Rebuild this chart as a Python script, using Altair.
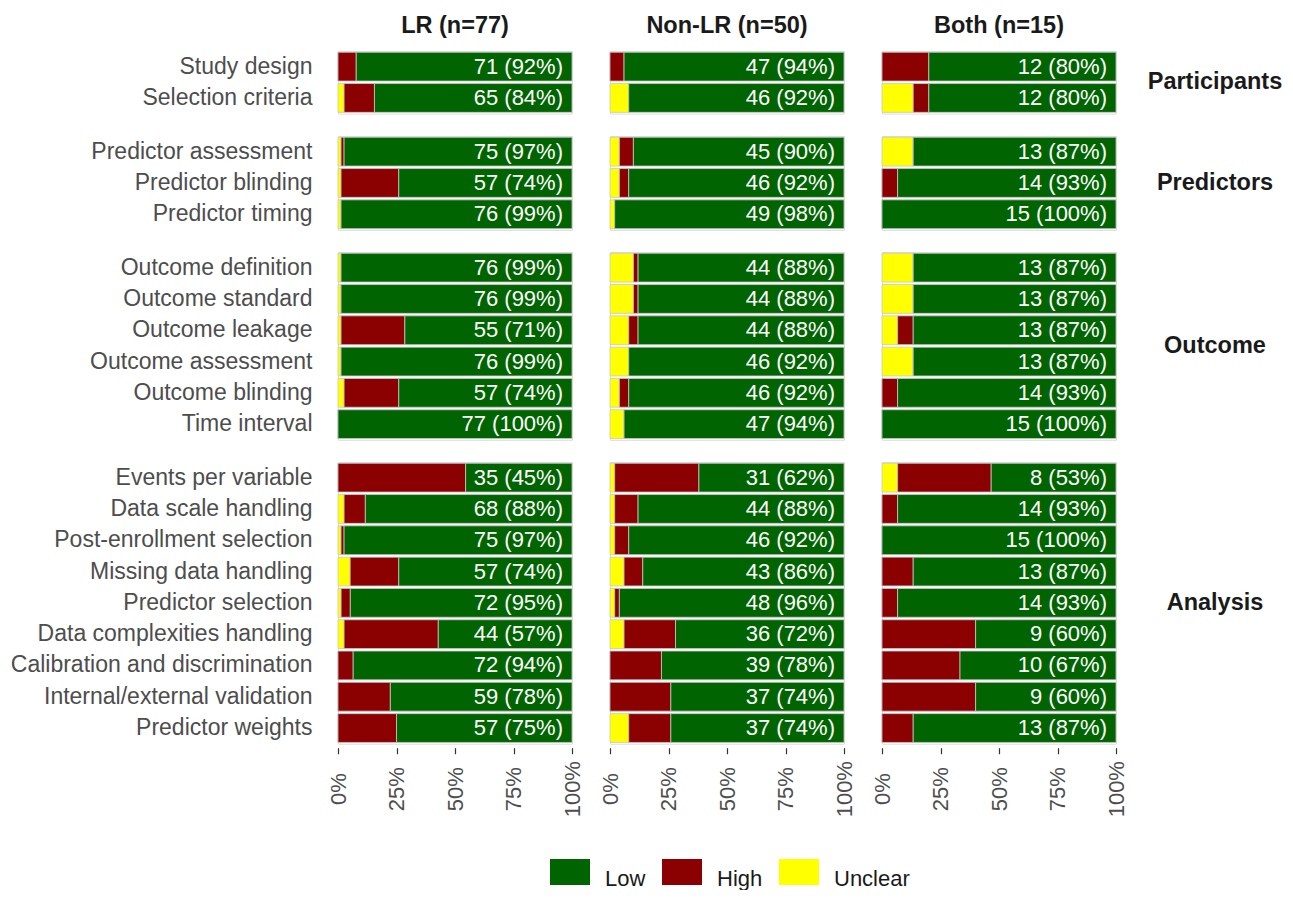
import altair as alt
import pandas as pd

groups = ["LR (n=77)", "Non-LR (n=50)", "Both (n=15)"]
domains = ["Participants", "Predictors", "Outcome", "Analysis"]
items_by_domain = {
    "Participants": ["Study design", "Selection criteria"],
    "Predictors": ["Predictor assessment", "Predictor blinding", "Predictor timing"],
    "Outcome": ["Outcome definition", "Outcome standard", "Outcome leakage",
                "Outcome assessment", "Outcome blinding", "Time interval"],
    "Analysis": ["Events per variable", "Data scale handling", "Post-enrollment selection",
                 "Missing data handling", "Predictor selection", "Data complexities handling",
                 "Calibration and discrimination", "Internal/external validation",
                 "Predictor weights"],
}

# counts per item (in item order above), per group
low = {
    "LR (n=77)": [71, 65, 75, 57, 76, 76, 76, 55, 76, 57, 77, 35, 68, 75, 57, 72, 44, 72, 59, 57],
    "Non-LR (n=50)": [47, 46, 45, 46, 49, 44, 44, 44, 46, 46, 47, 31, 44, 46, 43, 48, 36, 39, 37, 37],
    "Both (n=15)": [12, 12, 13, 14, 15, 13, 13, 13, 13, 14, 15, 8, 14, 15, 13, 14, 9, 10, 9, 13],
}
high = {
    "LR (n=77)": [6, 10, 1, 19, 0, 0, 0, 21, 0, 18, 0, 42, 7, 1, 16, 3, 31, 5, 17, 19],
    "Non-LR (n=50)": [3, 0, 3, 2, 0, 1, 1, 2, 0, 2, 0, 18, 5, 3, 4, 1, 11, 11, 13, 9],
    "Both (n=15)": [3, 1, 0, 1, 0, 0, 0, 1, 0, 1, 0, 6, 1, 0, 2, 1, 6, 5, 6, 2],
}
unclear = {
    "LR (n=77)": [0, 2, 1, 1, 1, 1, 1, 1, 1, 2, 0, 0, 2, 1, 4, 1, 2, 0, 0, 0],
    "Non-LR (n=50)": [0, 4, 2, 2, 1, 5, 5, 4, 4, 2, 3, 1, 1, 1, 3, 1, 3, 0, 0, 4],
    "Both (n=15)": [0, 2, 2, 0, 0, 2, 2, 1, 2, 0, 0, 1, 0, 0, 0, 0, 0, 0, 0, 0],
}
low_pct = {
    "LR (n=77)": [92, 84, 97, 74, 99, 99, 99, 71, 99, 74, 100, 45, 88, 97, 74, 95, 57, 94, 78, 75],
    "Non-LR (n=50)": [94, 92, 90, 92, 98, 88, 88, 88, 92, 92, 94, 62, 88, 92, 86, 96, 72, 78, 74, 74],
    "Both (n=15)": [80, 80, 87, 93, 100, 87, 87, 87, 87, 93, 100, 53, 93, 100, 87, 93, 60, 67, 60, 87],
}

judgments = ["Low", "High", "Unclear"]
colors = ["#006400", "#8B0000", "#FFFF00"]
stack_order = {"Unclear": 0, "High": 1, "Low": 2}

rows = []
for g in groups:
    idx = 0
    for d in domains:
        for it in items_by_domain[d]:
            vals = {"Low": low[g][idx], "High": high[g][idx], "Unclear": unclear[g][idx]}
            for j in ["Unclear", "High", "Low"]:
                rows.append({
                    "group": g, "domain": d, "item": it, "judgment": j,
                    "count": vals[j], "ord": stack_order[j],
                    "label": f"{low[g][idx]} ({low_pct[g][idx]}%)" if j == "Low" else "",
                })
            idx += 1
df = pd.DataFrame(rows)

FONT = "Liberation Sans"
STEP = 31.3
PW = 234

legend = alt.Legend(
    title=None, orient="none", direction="horizontal", legendX=212, legendY=808,
    symbolType="M-1,-1H1V0.3H-1Z", symbolSize=1600, symbolStrokeWidth=0, symbolOpacity=1,
    labelFontSize=22, labelColor="#1a1a1a", labelOffset=15, columnPadding=16,
    labelFont=FONT,
)


def panel(d, gi):
    g = groups[gi]
    sub = df[(df["domain"] == d) & (df["group"] == g)]
    its = items_by_domain[d]
    h = round(len(its) * STEP, 1)
    first_col = gi == 0
    last_row = d == domains[-1]
    first_row = d == domains[0]

    yaxis = alt.Axis(labelFontSize=23, labelColor="#4d4d4d", ticks=False, domain=False,
                     labelPadding=26, labelLimit=400, labelFont=FONT, grid=False) if first_col else None
    y = alt.Y("item:N", sort=its, title=None, axis=yaxis,
              scale=alt.Scale(paddingInner=0.08, paddingOuter=0.04))
    if last_row:
        xaxis = alt.Axis(values=[0, 0.25, 0.5, 0.75, 1], format=".0%", labelAngle=270,
                         labelAlign="center", labelBaseline="middle", labelFontSize=22,
                         labelColor="#4d4d4d", tickSize=6, tickColor="#333333", tickWidth=1.2,
                         domain=False, grid=False, offset=4, labelPadding=35,
                         labelFlush=False, labelOverlap=False, labelFont=FONT)
    else:
        xaxis = None

    base = alt.Chart(sub)
    bars = base.mark_bar(stroke="#c8c8c8", strokeWidth=0.8).encode(
        x=alt.X("count:Q", stack="normalize", title=None, axis=xaxis,
                scale=alt.Scale(domain=[0, 1], nice=False)),
        y=y,
        color=alt.Color("judgment:N", scale=alt.Scale(domain=judgments, range=colors), legend=legend),
        order=alt.Order("ord:Q", sort="ascending"),
    )
    text = base.transform_filter(alt.datum.judgment == "Low").mark_text(
        align="right", baseline="middle", dx=-9, color="white", fontSize=22, font=FONT
    ).encode(x=alt.datum(1, axis=xaxis), y=y, text="label:N")
    layers = [bars, text]
    if gi == len(groups) - 1:
        lab = alt.Chart(pd.DataFrame({"d": [d]})).mark_text(
            fontSize=23.5, fontWeight="bold", align="center", baseline="middle",
            color="#1a1a1a", font=FONT
        ).encode(text="d:N", x=alt.value(PW + 99), y=alt.value(h / 2))
        layers.append(lab)
    ch = alt.layer(*layers).properties(width=PW, height=h)
    if first_row:
        ch = ch.properties(title=alt.TitleParams(g, fontSize=23.5, fontWeight="bold", color="#1a1a1a",
                                                 offset=14, anchor="middle", font=FONT))
    return ch


rows_charts = [alt.hconcat(*[panel(d, gi) for gi in range(len(groups))], spacing=38, bounds="flush")
               for d in domains]
chart = alt.vconcat(*rows_charts, spacing=20).properties(
    padding={"left": 1, "top": 5, "right": 0, "bottom": 0}
).configure_view(stroke=None).configure(font=FONT, background="white")

chart.save("out.html", embed_options={"renderer": "svg", "actions": False})
